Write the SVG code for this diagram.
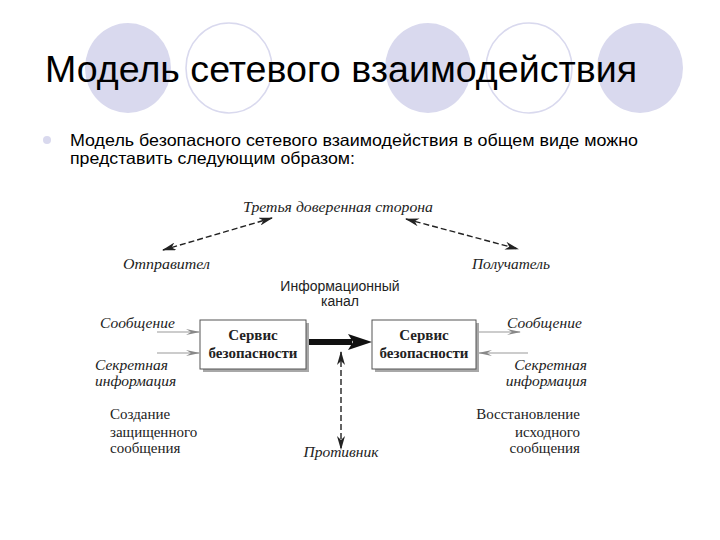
<svg xmlns="http://www.w3.org/2000/svg" width="720" height="540" viewBox="0 0 720 540">
<defs>
<style>
.bg{fill:#ffffff}
.cf{fill:#d9d9ee}
.co{fill:none;stroke:#d9d9ee;stroke-width:1.6}
.title{font-family:"Liberation Sans",Arial,sans-serif;font-size:37px;fill:#000}
.body{font-family:"Liberation Sans",Arial,sans-serif;font-size:16.5px;fill:#000}
.lab{font-family:"Liberation Serif","Times New Roman",serif;font-style:italic;font-size:15.5px;fill:#222}
.ser{font-family:"Liberation Serif","Times New Roman",serif;font-size:15px;fill:#222}
.san{font-family:"Liberation Sans",Arial,sans-serif;font-size:14px;fill:#222}
.boxt{font-family:"Liberation Serif","Times New Roman",serif;font-weight:bold;font-size:15px;fill:#222}
.box{fill:#fff;stroke:#555;stroke-width:1}
.shadow{fill:#a8a8a8}
.dash{fill:none;stroke:#222;stroke-width:1.4;stroke-dasharray:6,3}
.thin{fill:none;stroke:#999;stroke-width:1.2}
.thick{fill:none;stroke:#111;stroke-width:6}
</style>
<marker id="dh" viewBox="0 0 14 8" refX="13" refY="4" markerWidth="14" markerHeight="8" markerUnits="userSpaceOnUse" orient="auto-start-reverse">
<path d="M0,0 L14,4 L0,8 L4,4 Z" fill="#222"/>
</marker>
<marker id="gh" viewBox="0 0 14 8" refX="13" refY="4" markerWidth="14" markerHeight="8" markerUnits="userSpaceOnUse" orient="auto">
<path d="M0,1 L14,4 L0,7 L5,4 Z" fill="#888"/>
</marker>
</defs>
<rect class="bg" x="0" y="0" width="720" height="540"/>
<g id="decor">
<ellipse class="cf" cx="128" cy="68" rx="43" ry="45"/>
<ellipse class="co" cx="229" cy="68" rx="43" ry="45"/>
<ellipse class="cf" cx="428" cy="68" rx="43" ry="45"/>
<ellipse class="co" cx="529" cy="68" rx="43" ry="45"/>
<ellipse class="cf" cx="640" cy="68" rx="43" ry="45"/>
</g>
<text class="title" x="45" y="82" textLength="592" lengthAdjust="spacingAndGlyphs">Модель сетевого взаимодействия</text>
<circle class="cf" cx="47" cy="140" r="4"/>
<text class="body" x="70" y="146" textLength="568" lengthAdjust="spacingAndGlyphs">Модель безопасного сетевого взаимодействия в общем виде можно</text>
<text class="body" x="70" y="164" textLength="285" lengthAdjust="spacingAndGlyphs">представить следующим образом:</text>

<g id="connectors">
<path class="dash" d="M272,218 L163,250" marker-start="url(#dh)" marker-end="url(#dh)"/>
<path class="dash" d="M406,219 L518,249" marker-start="url(#dh)" marker-end="url(#dh)"/>
<path class="thick" d="M309,342 L352,342"/>
<path d="M348,334 L372,342 L348,350 L353,342 Z" fill="#111"/>
<path class="dash" d="M341,352 L341,449" marker-start="url(#dh)" marker-end="url(#dh)"/>
<path class="thin" d="M157,332 L199,332" marker-end="url(#gh)"/>
<path class="thin" d="M157,353 L199,353" marker-end="url(#gh)"/>
<path class="thin" d="M478,332 L520,332" marker-end="url(#gh)"/>
<path class="thin" d="M528,353 L479,353" marker-end="url(#gh)"/>
</g>

<g id="trusted"><text class="lab" x="243" y="212" textLength="190" lengthAdjust="spacingAndGlyphs">Третья доверенная сторона</text></g>
<g id="sender"><text class="lab" x="123" y="269" textLength="87" lengthAdjust="spacingAndGlyphs">Отправител</text></g>
<g id="receiver"><text class="lab" x="472" y="269" textLength="78" lengthAdjust="spacingAndGlyphs">Получатель</text></g>
<g id="channel">
<text class="san" x="340" y="291" text-anchor="middle">Информационный</text>
<text class="san" x="340" y="306" text-anchor="middle">канал</text>
</g>
<g id="service1">
<rect class="shadow" x="203" y="323" width="106" height="49"/>
<rect class="box" x="200" y="320" width="106" height="49"/>
<text class="boxt" x="253" y="340" text-anchor="middle">Сервис</text>
<text class="boxt" x="253" y="358" text-anchor="middle">безопасности</text>
</g>
<g id="service2">
<rect class="shadow" x="375" y="323" width="104" height="49"/>
<rect class="box" x="372" y="320" width="104" height="49"/>
<text class="boxt" x="424" y="340" text-anchor="middle">Сервис</text>
<text class="boxt" x="424" y="358" text-anchor="middle">безопасности</text>
</g>
<g id="in-labels">
<text class="lab" x="100" y="328">Сообщение</text>
<text class="lab" x="95" y="370">Секретная</text>
<text class="lab" x="95" y="386">информация</text>
</g>
<g id="out-labels">
<text class="lab" x="507" y="328">Сообщение</text>
<text class="lab" x="587" y="370" text-anchor="end">Секретная</text>
<text class="lab" x="587" y="386" text-anchor="end">информация</text>
</g>
<g id="create">
<text class="ser" x="110" y="419">Создание</text>
<text class="ser" x="110" y="437">защищенного</text>
<text class="ser" x="110" y="453">сообщения</text>
</g>
<g id="restore">
<text class="ser" x="580" y="419" text-anchor="end">Восстановление</text>
<text class="ser" x="580" y="437" text-anchor="end">исходного</text>
<text class="ser" x="580" y="453" text-anchor="end">сообщения</text>
</g>
<g id="adversary"><text class="lab" x="341" y="457" text-anchor="middle">Противник</text></g>
</svg>
